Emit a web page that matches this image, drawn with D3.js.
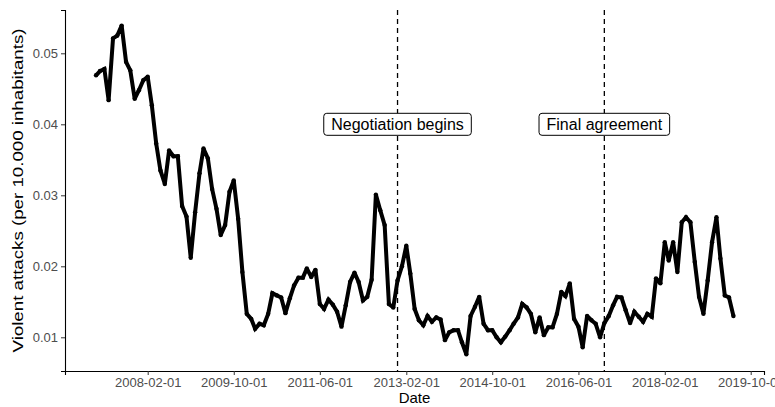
<!DOCTYPE html>
<html lang="en">

<head>
    <meta charset="UTF-8">
    <title>Violent attacks</title>
    <script src="https://d3js.org/d3.v7.min.js"></script>
    <style>
        body { margin: 0; background: #fff; }
        text { font-family: "Liberation Sans", Arial, Helvetica, sans-serif; }
    </style>
</head>

<body>
    <div id="container"></div>

    <script>
        // monthly series, first month 2007-02
        var firstMonth = "2007-02-01";
        var attacks = [
            0.0469, 0.0475, 0.0478, 0.0434, 0.0521, 0.0525, 0.0539, 0.0488, 0.0476, 0.0436,
            0.0448, 0.0462, 0.0467, 0.0427, 0.0373, 0.0335, 0.0316, 0.0363, 0.0355, 0.0355,
            0.0285, 0.0270, 0.0212, 0.0276, 0.0331, 0.0366, 0.0352, 0.0309, 0.0281, 0.0244,
            0.0258, 0.0305, 0.0321, 0.0267, 0.0192, 0.0133, 0.0126, 0.0112, 0.0119, 0.0117,
            0.0133, 0.0162, 0.0159, 0.0156, 0.0134, 0.0155, 0.0173, 0.0184, 0.0184, 0.0197,
            0.0185, 0.0195, 0.0147, 0.0140, 0.0153, 0.0146, 0.0136, 0.0115, 0.0145, 0.0178,
            0.0191, 0.0178, 0.0152, 0.0157, 0.0181, 0.0301, 0.0279, 0.0258, 0.0147, 0.0142,
            0.0180, 0.0200, 0.0229, 0.0190, 0.0140, 0.0124, 0.0117, 0.0130, 0.0122, 0.0128,
            0.0125, 0.0096, 0.0107, 0.0110, 0.0110, 0.0093, 0.0076, 0.0130, 0.0143, 0.0157,
            0.0119, 0.0110, 0.0110, 0.0100, 0.0093, 0.0101, 0.0110, 0.0119, 0.0128, 0.0147,
            0.0142, 0.0133, 0.0107, 0.0128, 0.0103, 0.0114, 0.0114, 0.0133, 0.0164, 0.0158,
            0.0176, 0.0126, 0.0115, 0.0086, 0.0130, 0.0124, 0.0119, 0.0100, 0.0120, 0.0130,
            0.0145, 0.0157, 0.0156, 0.0138, 0.0120, 0.0136, 0.0129, 0.0122, 0.0133, 0.0129,
            0.0183, 0.0176, 0.0234, 0.0208, 0.0234, 0.0192, 0.0262, 0.0269, 0.0262, 0.0206,
            0.0157, 0.0133, 0.0180, 0.0234, 0.0269, 0.0211, 0.0159, 0.0156, 0.0130
        ];

        var xTicks = ["2008-02-01", "2009-10-01", "2011-06-01", "2013-02-01",
                      "2014-10-01", "2016-06-01", "2018-02-01", "2019-10-01"];
        var yTicks = [0.01, 0.02, 0.03, 0.04, 0.05];

        var eventDates = ["2012-12-01", "2016-12-01"];
        var eventLabels = ["Negotiation begins", "Final agreement"];
        var labelLevel = 0.04;

        var parse = d3.utcParse("%Y-%m-%d");
        var start = parse(firstMonth);
        var months = d3.utcMonth.range(start, d3.utcMonth.offset(start, attacks.length));
        var data = attacks.map((v, i) => ({ date: months[i], value: v }));

        var width = 775, height = 407;
        var mLeft = 65, mRight = 764, mTop = 10, mBottom = 371;

        // place the tick dates where they sit in the reference, then stretch to the panel
        var x = d3.scaleUtc()
            .domain([parse("2008-02-01"), parse("2019-10-01")])
            .range([147.7, 750.7]);
        x.domain([x.invert(mLeft), x.invert(mRight)]).range([mLeft, mRight]);

        var y = d3.scaleLinear()
            .domain([0.01, 0.05])
            .range([337.3, 53.3]);
        y.domain([y.invert(mBottom), y.invert(mTop)]).range([mBottom, mTop]);

        var svg = d3.select("#container")
            .append("svg")
            .attr("width", width)
            .attr("height", height);

        // event lines
        svg.selectAll("line.event")
            .data(eventDates)
            .enter()
            .append("line")
            .attr("class", "event")
            .attr("x1", (d) => x(parse(d)))
            .attr("x2", (d) => x(parse(d)))
            .attr("y1", mTop)
            .attr("y2", mBottom)
            .attr("stroke", "#000")
            .attr("stroke-width", 1.3)
            .attr("stroke-dasharray", "5,4");

        // the series
        var line = d3.line()
            .x((d) => x(d.date))
            .y((d) => y(d.value));

        svg.append("path")
            .datum(data)
            .attr("d", line)
            .attr("fill", "none")
            .attr("stroke", "#000")
            .attr("stroke-width", 4)
            .attr("stroke-linejoin", "miter")
            .attr("stroke-miterlimit", 2);

        svg.selectAll("circle")
            .data(data)
            .enter()
            .append("circle")
            .attr("cx", (d) => x(d.date))
            .attr("cy", (d) => y(d.value))
            .attr("r", 2.2)
            .attr("fill", "#000");

        // labels
        var lab = svg.selectAll("g.label")
            .data(eventDates)
            .enter()
            .append("g")
            .attr("class", "label")
            .attr("transform", (d) => "translate(" + x(parse(d)) + "," + y(labelLevel) + ")");

        lab.append("rect");
        lab.append("text")
            .attr("text-anchor", "middle")
            .attr("dy", "0.35em")
            .attr("font-size", 16)
            .attr("fill", "#000")
            .text((d, i) => eventLabels[i]);

        lab.each(function () {
            var g = d3.select(this);
            var w = g.select("text").node().getComputedTextLength();
            g.select("rect")
                .attr("x", -w / 2 - 7.5)
                .attr("y", -11)
                .attr("width", w + 15)
                .attr("height", 22)
                .attr("rx", 3)
                .attr("fill", "#fff")
                .attr("stroke", "#000")
                .attr("stroke-width", 1);
        });

        // axes
        var xAxis = svg.append("g")
            .attr("transform", "translate(0," + mBottom + ")")
            .call(d3.axisBottom(x)
                .tickValues(xTicks.map(parse))
                .tickFormat(d3.utcFormat("%Y-%m-%d"))
                .tickSizeOuter(0)
                .tickSize(4)
                .tickPadding(3));

        var yAxis = svg.append("g")
            .attr("transform", "translate(" + mLeft + ",0)")
            .call(d3.axisLeft(y)
                .tickValues(yTicks)
                .tickFormat(d3.format(".2f"))
                .tickSizeOuter(0)
                .tickSize(4)
                .tickPadding(3));

        [xAxis, yAxis].forEach(function (a) {
            a.select(".domain").attr("stroke", "#000").attr("stroke-width", 1.1);
            a.selectAll(".tick line").attr("stroke", "#333");
            a.selectAll(".tick text")
                .attr("fill", "#4d4d4d")
                .attr("font-size", 13)
                .style("font-family", "'Liberation Sans', Arial, sans-serif");
        });

        svg.append("text")
            .attr("x", (mLeft + mRight) / 2)
            .attr("y", 403)
            .attr("text-anchor", "middle")
            .attr("font-size", 15)
            .attr("fill", "#000")
            .text("Date");

        // the reference title is drawn stretched along its length
        svg.append("text")
            .attr("transform", "translate(23," + (mTop + mBottom) / 2 + ") rotate(-90)")
            .attr("text-anchor", "middle")
            .attr("font-size", 15)
            .attr("textLength", 324)
            .attr("lengthAdjust", "spacingAndGlyphs")
            .attr("fill", "#000")
            .text("Violent attacks (per 10.000 inhabitants)");
    </script>
</body>

</html>
